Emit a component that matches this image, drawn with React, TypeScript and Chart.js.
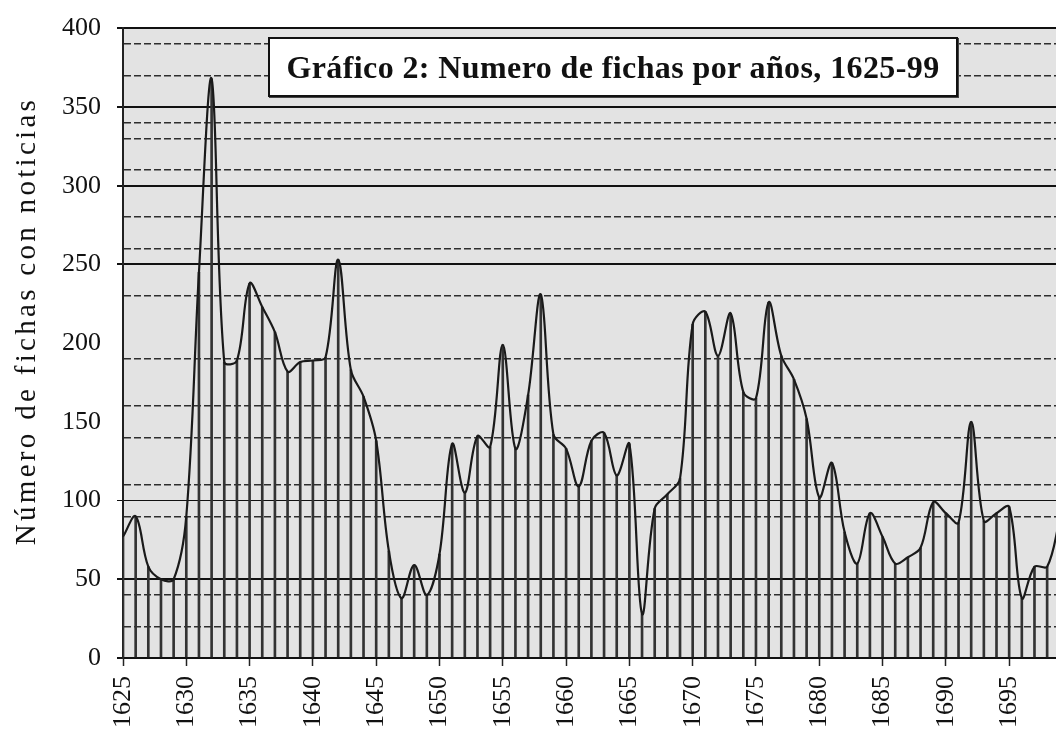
import { useEffect, useRef } from 'react';
import { Chart, registerables } from 'chart.js';

Chart.register(...registerables);

const YEARS = [
  '1625', '1626', '1627', '1628', '1629', '1630', '1631', '1632', '1633', '1634',
  '1635', '1636', '1637', '1638', '1639', '1640', '1641', '1642', '1643', '1644',
  '1645', '1646', '1647', '1648', '1649', '1650', '1651', '1652', '1653', '1654',
  '1655', '1656', '1657', '1658', '1659', '1660', '1661', '1662', '1663', '1664',
  '1665', '1666', '1667', '1668', '1669', '1670', '1671', '1672', '1673', '1674',
  '1675', '1676', '1677', '1678', '1679', '1680', '1681', '1682', '1683', '1684',
  '1685', '1686', '1687', '1688', '1689', '1690', '1691', '1692', '1693', '1694',
  '1695', '1696', '1697', '1698', '1699',
];

const FICHAS = [
  77, 90, 58, 50, 50, 90, 245, 368, 188, 189,
  238, 223, 207, 182, 188, 189, 191, 253, 183, 166,
  138, 68, 38, 59, 40, 66, 136, 105, 141, 134,
  199, 133, 167, 231, 142, 133, 109, 138, 143, 116,
  136, 28, 95, 104, 114, 212, 220, 192, 219, 169,
  165, 226, 192, 177, 152, 102, 124, 80, 60, 92,
  77, 60, 64, 70, 99, 92, 86, 150, 87, 92,
  96, 38, 58, 58, 88,
];

const SOLID_LINES = [0, 50, 100, 250, 300, 350, 400];
const DASHED_LINES = [20, 40, 90, 110, 140, 160, 190, 230, 260, 280, 310, 330, 340, 370, 390];

const TITLE = 'Gráfico 2: Numero de fichas por años, 1625-99';
const Y_TITLE = 'Número de fichas con noticias';

const SERIF = '"Liberation Serif", "Times New Roman", serif';

const plotBackground = {
  id: 'plotBackground',
  beforeDraw(chart: any) {
    const { ctx, chartArea: a } = chart;
    ctx.save();
    ctx.fillStyle = '#e3e3e3';
    ctx.fillRect(a.left, a.top, a.right - a.left, a.bottom - a.top);
    ctx.restore();
  },
};

export default function App() {
  const ref = useRef<HTMLCanvasElement | null>(null);

  useEffect(() => {
    if (!ref.current) return;
    const tickVal = (c: any) => (c && c.tick ? c.tick.value : undefined);
    const chart = new Chart(ref.current, {
      type: 'bar',
      data: {
        labels: YEARS,
        datasets: [
          {
            type: 'line',
            data: FICHAS,
            borderColor: '#1a1a1a',
            borderWidth: 2.2,
            tension: 0.35,
            pointRadius: 0,
            order: 1,
          } as any,
          {
            type: 'bar',
            data: FICHAS,
            backgroundColor: '#333333',
            barThickness: 2,
            order: 2,
          },
        ],
      },
      options: {
        animation: false,
        responsive: false,
        devicePixelRatio: 1,
        layout: { padding: { top: 10, right: 0, left: 0, bottom: 0 } },
        plugins: {
          legend: { display: false },
          tooltip: { enabled: false },
          title: { display: false },
        },
        scales: {
          x: {
            offset: false,
            grid: {
              offset: false,
              drawOnChartArea: false,
              drawTicks: true,
              tickLength: 8,
              tickWidth: 1.5,
              tickColor: (c: any) => (c.index % 5 === 0 ? '#222' : 'transparent'),
            },
            border: { color: '#111', width: 2 },
            ticks: {
              autoSkip: false,
              maxRotation: 90,
              minRotation: 90,
              padding: 10,
              color: '#111',
              font: { family: SERIF, size: 26 },
              callback: (_v: any, idx: number) => (idx % 5 === 0 ? YEARS[idx] : ''),
            },
            afterFit: (s: any) => {
              s.height = 87;
            },
          },
          y: {
            min: 0,
            max: 400,
            ticks: {
              stepSize: 10,
              autoSkip: false,
              padding: 16,
              color: '#111',
              font: { family: SERIF, size: 26, lineHeight: 0.95 },
              callback: (v: any) => (Number(v) % 50 === 0 ? String(v) : ''),
            },
            grid: {
              color: (c: any) => {
                const v = tickVal(c);
                if (v === undefined) return 'transparent';
                if (SOLID_LINES.includes(v)) return '#111';
                if (DASHED_LINES.includes(v)) return '#2e2e2e';
                return 'transparent';
              },
              lineWidth: (c: any) => {
                const v = tickVal(c);
                if (v === 100) return 1;
                if (SOLID_LINES.includes(v)) return 2;
                return 1.6;
              },
              tickLength: 6,
              tickColor: (c: any) => (SOLID_LINES.includes(tickVal(c)) ? '#111' : 'transparent'),
            },
            border: {
              color: '#222',
              width: 2,
              dash: (c: any) => (DASHED_LINES.includes(tickVal(c)) ? [7, 3] : []),
            } as any,
            afterFit: (s: any) => {
              s.width = 123;
            },
          },
        },
      } as any,
      plugins: [plotBackground],
    });
    return () => chart.destroy();
  }, []);

  return (
    <div
      style={{
        position: 'absolute',
        left: 0,
        top: 0,
        width: 1056,
        height: 745,
        overflow: 'hidden',
        background: '#fff',
      }}
    >
      <canvas ref={ref} width={1101} height={745} style={{ display: 'block', width: 1101, height: 745 }} />
      <div
        style={{
          position: 'absolute',
          left: 25 - 240,
          top: 321 - 17,
          width: 480,
          height: 34,
          lineHeight: '34px',
          transform: 'rotate(-90deg)',
          textAlign: 'center',
          fontFamily: SERIF,
          fontSize: 29,
          letterSpacing: '3.3px',
          color: '#111',
          whiteSpace: 'nowrap',
        }}
      >
        {Y_TITLE}
      </div>
      <div
        style={{
          position: 'absolute',
          left: 268,
          top: 37,
          width: 690,
          height: 60,
          boxSizing: 'border-box',
          border: '2px solid #111',
          boxShadow: '1px 1px 0 #444',
          background: '#fff',
          display: 'flex',
          alignItems: 'center',
          justifyContent: 'center',
          fontFamily: SERIF,
          fontWeight: 'bold',
          fontSize: 32,
          letterSpacing: '0.4px',
          color: '#111',
          whiteSpace: 'nowrap',
        }}
      >
        {TITLE}
      </div>
    </div>
  );
}
